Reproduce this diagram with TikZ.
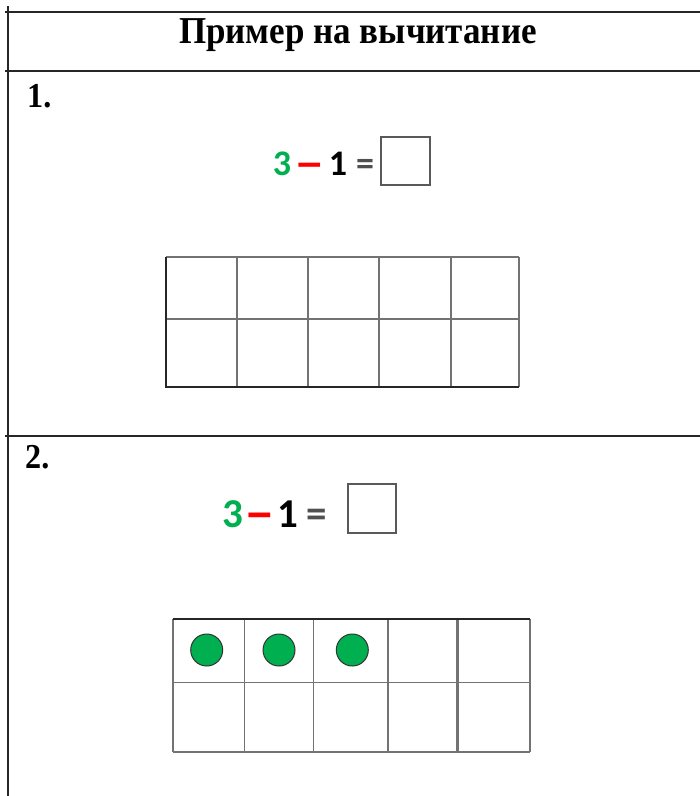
\documentclass[tikz,border=0pt]{standalone}
\usepackage{fontspec}
\setmainfont{Liberation Serif}
\newfontfamily\eqfont{Carlito}
\definecolor{dotgreen}{HTML}{00B050}
\definecolor{eqred}{HTML}{FF0000}
\definecolor{eqgray}{HTML}{505050}
\begin{document}
\begin{tikzpicture}[x=1pt,y=-1pt,
  rule/.style={line width=2pt,black!85},
  gridline/.style={line width=1.6pt,black!55},
  gridedge/.style={line width=1.8pt,black!85},
  ansbox/.style={line width=1.6pt,black!65},
  dot/.style={circle,fill=dotgreen,draw=black!80,line width=1pt,minimum size=32pt,inner sep=0pt},
  eqA/.style={font=\eqfont\bfseries\fontsize{36}{36}\selectfont,inner sep=0pt,anchor=base},
  eqB/.style={font=\eqfont\bfseries\fontsize{41}{41}\selectfont,inner sep=0pt,anchor=base},
  lab/.style={font=\bfseries\fontsize{35}{35}\selectfont,inner sep=0pt,anchor=base west}]
\useasboundingbox (0,0) rectangle (700,796);
\fill[white] (0,0) rectangle (700,796);
% table rules
\draw[rule] (5,12) -- (700,12);
\draw[rule] (5,71) -- (700,71);
\draw[rule] (5,436) -- (700,436);
\draw[rule] (7.5,6) -- (7.5,796);
% header
\node[font=\bfseries\fontsize{38}{38}\selectfont,inner sep=0pt,anchor=base,xscale=0.92] (head) at (358,43) {Пример на вычитание};
\node[lab,xscale=0.92] (n1) at (27,107) {1.};
\node[lab,xscale=0.92] (n2) at (25,468) {2.};
% equation 1
\node[eqA,text=dotgreen] (a3) at (282,175) {3};
\node[eqA,text=eqred] (am) at (310,175) {\raisebox{-3pt}{\scalebox{1.7}[1.3]{–}}};
\node[eqA,text=black] (a1) at (338,175) {1};
\node[eqA,text=eqgray] (aeq) at (365,175) {=};
\draw[ansbox] (381,137) rectangle (430,185);
% equation 2
\node[eqB,text=dotgreen] (b3) at (232.5,527) {3};
\node[eqB,text=eqred] (bm) at (260,527) {\raisebox{-3.5pt}{\scalebox{1.5}[1.3]{–}}};
\node[eqB,text=black] (b1) at (288,527) {1};
\node[eqB,text=eqgray] (beq) at (316.5,527) {=};
\draw[ansbox] (348,484) rectangle (396,533);
% grid 1
\foreach \x in {237,308,379,451,519} \draw[gridline] (\x,257) -- (\x,387);
\draw[gridline] (166,257) -- (519,257);
\draw[gridline] (166,319) -- (519,319);
\draw[gridedge] (166,257) -- (166,387) -- (519,387);
% grid 2
\foreach \x in {172.7,244.3,313.3,387.7,530} \draw[gridline] (\x,619) -- (\x,752);
\draw[gridline,line width=2.6pt] (457.3,619) -- (457.3,752);
\draw[gridline] (172.7,682.3) -- (530,682.3);
\draw[gridline] (172.7,752) -- (530,752);
\draw[gridedge] (172.7,619) -- (530,619);
% counters
\node[dot] (c1) at (206.7,650) {};
\node[dot] (c2) at (279,650) {};
\node[dot] (c3) at (352.3,650) {};
\end{tikzpicture}
\end{document}
